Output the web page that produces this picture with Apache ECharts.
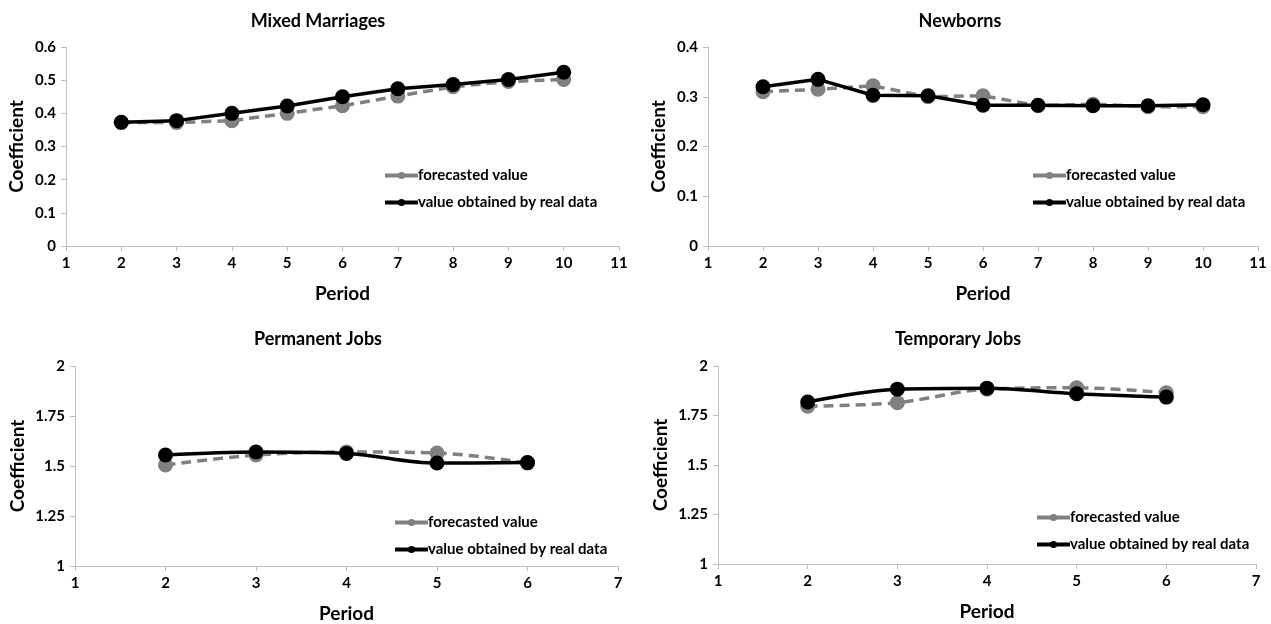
<!DOCTYPE html>
<html>
<head>
<meta charset="utf-8">
<script src="https://cdn.jsdelivr.net/npm/echarts@6/dist/echarts.min.js"></script>
<style>
  html, body { margin: 0; padding: 0; background: #fff; }
  #main { width: 1271px; height: 624px; }
</style>
</head>
<body>
<div id="main"></div>
<script>
// periods
const periodsLong = [2, 3, 4, 5, 6, 7, 8, 9, 10];
const periodsShort = [2, 3, 4, 5, 6];

// Mixed Marriages
const mixedForecast = [0.372, 0.372, 0.378, 0.400, 0.423, 0.452, 0.480, 0.496, 0.502];
const mixedReal = [0.373, 0.378, 0.400, 0.422, 0.450, 0.474, 0.487, 0.502, 0.524];

// Newborns
const newbornForecast = [0.310, 0.315, 0.322, 0.300, 0.302, 0.282, 0.285, 0.280, 0.280];
const newbornReal = [0.320, 0.335, 0.303, 0.302, 0.283, 0.283, 0.282, 0.282, 0.284];

// Permanent Jobs
const permForecast = [1.505, 1.555, 1.570, 1.565, 1.515];
const permReal = [1.555, 1.570, 1.563, 1.515, 1.517];

// Temporary Jobs
const tempForecast = [1.797, 1.815, 1.883, 1.890, 1.865];
const tempReal = [1.818, 1.883, 1.888, 1.860, 1.843];

const titles = ['Mixed Marriages', 'Newborns', 'Permanent Jobs', 'Temporary Jobs'];

const FONT = 'Lato';
const GRAY = '#808080';
const AXIS = '#bfbfbf';

const grids = [
  { left: 66, top: 47, width: 553, height: 199 },
  { left: 708, top: 47, width: 550, height: 199 },
  { left: 75, top: 366, width: 543, height: 200 },
  { left: 718, top: 366, width: 538, height: 198 }
];

// title centres (x, y)
const titlePos = [[313, 7], [955, 7], [313, 325], [953, 325]];

const yRanges = [
  { min: 0, max: 0.6, interval: 0.1 },
  { min: 0, max: 0.4, interval: 0.1 },
  { min: 1, max: 2, interval: 0.25 },
  { min: 1, max: 2, interval: 0.25 }
];
const xRanges = [
  { min: 1, max: 11 },
  { min: 1, max: 11 },
  { min: 1, max: 7 },
  { min: 1, max: 7 }
];

const panels = [
  { x: periodsLong, f: mixedForecast, r: mixedReal, smooth: false },
  { x: periodsLong, f: newbornForecast, r: newbornReal, smooth: false },
  { x: periodsShort, f: permForecast, r: permReal, smooth: true },
  { x: periodsShort, f: tempForecast, r: tempReal, smooth: true }
];

const legendPos = [
  { left: 378, top: 163 },
  { left: 1026, top: 163 },
  { left: 388, top: 510 },
  { left: 1030, top: 505 }
];

const pair = (xs, ys) => xs.map((x, i) => [x, ys[i]]);

const option = {
  backgroundColor: '#fff',
  animation: false,
  textStyle: { fontFamily: FONT },
  title: titles.map((t, i) => ({
    text: t,
    left: titlePos[i][0],
    top: titlePos[i][1],
    textAlign: 'center',
    textStyle: { fontFamily: FONT, fontSize: 18, fontWeight: 'bold', color: '#000' }
  })),
  grid: grids,
  legend: panels.map((p, i) => ({
    orient: 'vertical',
    left: legendPos[i].left,
    top: legendPos[i].top,
    itemWidth: 33,
    itemHeight: 9,
    itemGap: 12,
    lineStyle: { type: 'solid', width: 4 },
    data: ['forecasted value ' + i, 'value obtained by real data ' + i],
    formatter: n => n.replace(/ \d$/, ''),
    textStyle: { fontFamily: FONT, fontSize: 15, fontWeight: 'bold', color: '#000', padding: [0, 0, 0, -5] }
  })),
  xAxis: xRanges.map((r, i) => ({
    type: 'value',
    gridIndex: i,
    min: r.min,
    max: r.max,
    interval: 1,
    name: 'Period',
    nameLocation: 'middle',
    nameGap: 38,
    nameTextStyle: { fontFamily: FONT, fontSize: 19, fontWeight: 'bold', color: '#000' },
    axisLine: { lineStyle: { color: AXIS, width: 1 } },
    axisTick: { show: true, length: 5, lineStyle: { color: AXIS } },
    axisLabel: { fontFamily: FONT, fontSize: 15, fontWeight: 'bold', color: '#000', margin: 10 },
    splitLine: { show: false }
  })),
  yAxis: yRanges.map((r, i) => ({
    type: 'value',
    gridIndex: i,
    min: r.min,
    max: r.max,
    interval: r.interval,
    name: 'Coefficient',
    nameLocation: 'middle',
    nameGap: i < 2 ? 40 : 48,
    nameTextStyle: { fontFamily: FONT, fontSize: 19, fontWeight: 'bold', color: '#000' },
    axisLine: { show: true, lineStyle: { color: AXIS, width: 1 } },
    axisTick: { show: true, length: 5, lineStyle: { color: AXIS } },
    axisLabel: { fontFamily: FONT, fontSize: 15, fontWeight: 'bold', color: '#000', margin: 10 },
    splitLine: { show: false }
  })),
  series: []
};

panels.forEach((p, i) => {
  option.series.push({
    name: 'forecasted value ' + i,
    type: 'line',
    xAxisIndex: i,
    yAxisIndex: i,
    smooth: p.smooth ? 0.35 : false,
    data: pair(p.x, p.f),
    symbol: 'circle',
    symbolSize: 15,
    itemStyle: { color: GRAY },
    lineStyle: { color: GRAY, width: 3.5, type: [10, 6] },
    z: 2
  });
  option.series.push({
    name: 'value obtained by real data ' + i,
    type: 'line',
    xAxisIndex: i,
    yAxisIndex: i,
    smooth: p.smooth ? 0.35 : false,
    data: pair(p.x, p.r),
    symbol: 'circle',
    symbolSize: 15,
    itemStyle: { color: '#000' },
    lineStyle: { color: '#000', width: 3.5 },
    z: 3
  });
});

const chart = echarts.init(document.getElementById('main'));
chart.setOption(option);
</script>
</body>
</html>
